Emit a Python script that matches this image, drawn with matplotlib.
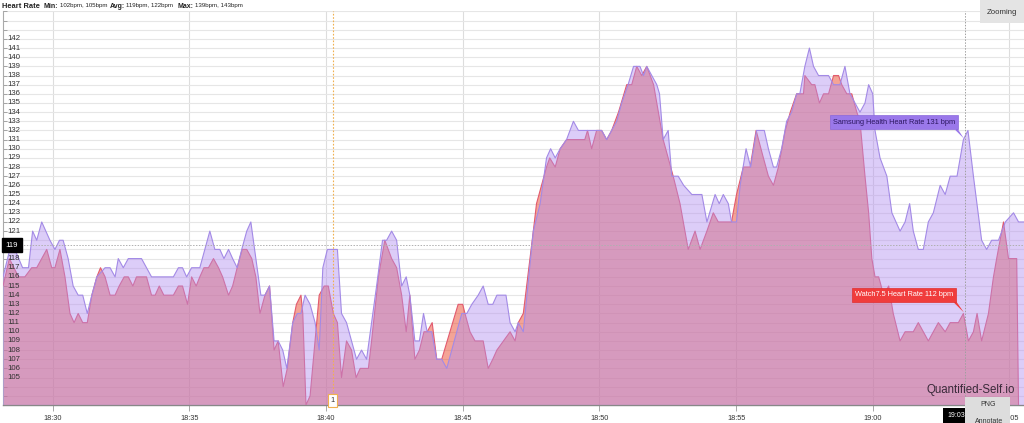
import matplotlib.pyplot as plt
import pandas as pd

plt.rcParams['font.family'] = ['Liberation Sans', 'DejaVu Sans']

DAY = '2023-05-01 '

# Samsung Health heart rate (bpm)
samsung_time = ['18:28:11', '18:28:26', '18:28:37', '18:28:54', '18:29:07', '18:29:16', '18:29:25', '18:29:36',
                '18:29:54', '18:30:05', '18:30:15', '18:30:23', '18:30:34', '18:30:45', '18:30:56', '18:31:06',
                '18:31:16', '18:31:26', '18:31:37', '18:31:55', '18:32:06', '18:32:17', '18:32:24', '18:32:35',
                '18:32:46', '18:33:15', '18:33:26', '18:33:37', '18:34:25', '18:34:36', '18:34:45', '18:34:54',
                '18:35:05', '18:35:23', '18:35:34', '18:35:45', '18:35:56', '18:36:07', '18:36:16', '18:36:26',
                '18:36:35', '18:36:45', '18:36:55', '18:37:06', '18:37:15', '18:37:26', '18:37:37', '18:37:46',
                '18:37:56', '18:38:06', '18:38:15', '18:38:25', '18:38:34', '18:38:47', '18:38:57', '18:39:05',
                '18:39:14', '18:39:25', '18:39:36', '18:39:45', '18:39:53', '18:40:03', '18:40:25', '18:40:34',
                '18:40:45', '18:40:56', '18:41:07', '18:41:18', '18:41:29', '18:41:40', '18:41:51', '18:42:04',
                '18:42:13', '18:42:24', '18:42:35', '18:42:46', '18:42:56', '18:43:04', '18:43:15', '18:43:25',
                '18:43:34', '18:43:42', '18:43:52', '18:44:03', '18:44:14', '18:44:25', '18:44:58', '18:45:09',
                '18:45:20', '18:45:34', '18:45:45', '18:45:56', '18:46:06', '18:46:15', '18:46:35', '18:46:44',
                '18:46:55', '18:47:02', '18:47:13', '18:47:35', '18:47:50', '18:48:04', '18:48:13', '18:48:23',
                '18:48:34', '18:48:48', '18:49:03', '18:49:14', '18:49:54', '18:50:05', '18:50:16', '18:50:27',
                '18:50:38', '18:50:49', '18:51:03', '18:51:15', '18:51:29', '18:51:37', '18:51:44', '18:51:55',
                '18:52:06', '18:52:12', '18:52:20', '18:52:31', '18:52:39', '18:52:53', '18:53:05', '18:53:23',
                '18:53:45', '18:53:56', '18:54:14', '18:54:23', '18:54:32', '18:54:43', '18:54:50', '18:55:01',
                '18:55:09', '18:55:22', '18:55:32', '18:55:45', '18:56:02', '18:56:11', '18:56:22', '18:56:29',
                '18:56:40', '18:56:51', '18:57:02', '18:57:13', '18:57:20', '18:57:31', '18:57:41', '18:57:50',
                '18:58:01', '18:58:23', '18:58:34', '18:58:48', '18:58:59', '18:59:10', '18:59:21', '18:59:32',
                '18:59:43', '18:59:51', '19:00:00', '19:00:05', '19:00:16', '19:00:31', '19:00:42', '19:01:00',
                '19:01:11', '19:01:21', '19:01:29', '19:01:40', '19:01:51', '19:02:02', '19:02:13', '19:02:28',
                '19:02:39', '19:02:50', '19:03:05', '19:03:19', '19:03:29', '19:03:41', '19:03:59', '19:04:10',
                '19:04:21', '19:04:36', '19:04:51', '19:05:09', '19:05:20', '19:05:32']
samsung_bpm = [116, 119, 119, 117, 117, 121, 120, 122,
               120, 119, 120, 120, 118, 115, 114, 114,
               112, 114, 116, 117, 117, 116, 118, 117,
               118, 118, 117, 116, 116, 117, 117, 116,
               117, 117, 119, 121, 119, 119, 118, 119,
               118, 117, 119, 121, 122, 118, 114, 114,
               115, 109, 109, 108, 106, 111, 112, 112,
               114, 113, 111, 108, 117, 119, 119, 112,
               111, 109, 107, 108, 107, 111, 115, 120,
               120, 121, 120, 115, 116, 114, 109, 109,
               112, 110, 110, 107, 107, 106, 112, 112,
               113, 114, 115, 113, 113, 114, 114, 111,
               110, 111, 110, 121, 124, 129, 130, 129,
               130, 131, 133, 132, 132, 132, 131, 132,
               133, 135, 137, 139, 139, 138, 139, 138,
               137, 136, 131, 132, 127, 127, 126, 125,
               125, 122, 125, 124, 125, 124, 122, 122,
               126, 130, 128, 132, 132, 130, 128, 128,
               130, 133, 134, 136, 136, 139, 141, 139,
               138, 138, 137, 137, 139, 136, 135, 134,
               135, 137, 136, 132, 129, 127, 123, 121,
               122, 124, 121, 119, 119, 122, 123, 126,
               125, 127, 127, 131, 132, 127, 120, 119,
               120, 120, 122, 123, 122, 122]

# Watch7.5 heart rate (bpm)
watch_time = ['18:28:11', '18:28:25', '18:28:35', '18:28:45', '18:28:59', '18:29:14', '18:29:25', '18:29:36',
              '18:29:47', '18:29:58', '18:30:05', '18:30:16', '18:30:27', '18:30:38', '18:30:47', '18:30:56',
              '18:31:06', '18:31:16', '18:31:26', '18:31:37', '18:31:45', '18:31:55', '18:32:06', '18:32:17',
              '18:32:26', '18:32:37', '18:32:46', '18:32:56', '18:33:04', '18:33:26', '18:33:37', '18:33:45',
              '18:33:54', '18:34:04', '18:34:25', '18:34:36', '18:34:45', '18:34:56', '18:35:05', '18:35:15',
              '18:35:23', '18:35:32', '18:35:42', '18:35:53', '18:36:04', '18:36:13', '18:36:26', '18:36:35',
              '18:36:45', '18:36:56', '18:37:06', '18:37:17', '18:37:26', '18:37:35', '18:37:46', '18:37:56',
              '18:38:06', '18:38:15', '18:38:26', '18:38:35', '18:38:47', '18:38:55', '18:39:05', '18:39:09',
              '18:39:16', '18:39:25', '18:39:45', '18:39:56', '18:40:05', '18:40:16', '18:40:25', '18:40:34',
              '18:40:45', '18:40:56', '18:41:06', '18:41:15', '18:41:33', '18:41:40', '18:41:55', '18:42:09',
              '18:42:24', '18:42:35', '18:42:46', '18:42:56', '18:43:04', '18:43:15', '18:43:25', '18:43:35',
              '18:43:42', '18:43:53', '18:44:03', '18:44:14', '18:44:50', '18:45:00', '18:45:05', '18:45:16',
              '18:45:27', '18:45:45', '18:45:56', '18:46:06', '18:46:15', '18:46:44', '18:46:55', '18:47:02',
              '18:47:13', '18:47:35', '18:47:42', '18:47:53', '18:48:04', '18:48:11', '18:48:23', '18:48:34',
              '18:48:48', '18:49:28', '18:49:34', '18:49:43', '18:49:54', '18:50:05', '18:50:16', '18:50:27',
              '18:50:42', '18:51:00', '18:51:11', '18:51:22', '18:51:33', '18:51:44', '18:51:59', '18:52:20',
              '18:52:42', '18:52:57', '18:53:15', '18:53:30', '18:53:41', '18:53:56', '18:54:10', '18:54:21',
              '18:54:50', '18:55:01', '18:55:16', '18:55:31', '18:55:44', '18:56:00', '18:56:11', '18:56:22',
              '18:56:33', '18:56:48', '18:56:59', '18:57:13', '18:57:28', '18:57:31', '18:57:46', '18:57:53',
              '18:58:03', '18:58:12', '18:58:23', '18:58:34', '18:58:45', '18:58:52', '18:59:03', '18:59:14',
              '18:59:25', '18:59:32', '18:59:43', '18:59:51', '18:59:58', '19:00:05', '19:00:13', '19:00:24',
              '19:00:35', '19:00:45', '19:01:00', '19:01:11', '19:01:29', '19:01:40', '19:01:51', '19:02:02',
              '19:02:13', '19:02:24', '19:02:39', '19:02:50', '19:03:08', '19:03:19', '19:03:30', '19:03:41',
              '19:03:49', '19:03:59', '19:04:14', '19:04:25', '19:04:32', '19:04:47', '19:04:58', '19:05:16',
              '19:05:20']
watch_bpm = [115, 118, 117, 116, 116, 117, 117, 118,
             119, 117, 117, 119, 116, 112, 111, 112,
             111, 111, 114, 116, 117, 116, 114, 114,
             115, 116, 116, 115, 116, 116, 114, 114,
             115, 114, 114, 115, 115, 113, 116, 115,
             116, 117, 117, 118, 117, 116, 114, 115,
             117, 119, 119, 118, 116, 112, 114, 115,
             108, 109, 104, 106, 111, 113, 114, 112,
             102, 103, 114, 115, 115, 112, 111, 105,
             109, 108, 105, 106, 106, 109, 116, 120,
             118, 117, 114, 110, 114, 107, 108, 110,
             110, 111, 107, 107, 113, 113, 112, 110,
             109, 109, 106, 107, 108, 110, 109, 111,
             112, 121, 124, 126, 128, 129, 128, 130,
             131, 131, 132, 130, 132, 132, 131, 132,
             134, 137, 137, 139, 138, 139, 137, 131,
             127, 124, 119, 121, 119, 121, 123, 122,
             122, 125, 128, 128, 132, 129, 127, 126,
             128, 132, 134, 136, 136, 138, 137, 137,
             135, 136, 136, 138, 138, 137, 136, 136,
             134, 133, 127, 123, 118, 116, 116, 114,
             115, 112, 109, 110, 110, 111, 110, 109,
             110, 111, 110, 111, 111, 112, 109, 110,
             112, 109, 112, 116, 118, 122, 118, 118,
             102]

y_ticks = list(range(102, 146))
y_labels = [str(v) if 105 <= v <= 142 else '' for v in y_ticks]
x_tick_times = ['18:30', '18:35', '18:40', '18:45', '18:50', '18:55', '19:00', '19:05']

hover_time = '19:03:22'
flag_time = '18:40:15'
hover_samsung = 131
hover_watch = 112
crosshair_bpm = 119.45


def to_dt(times):
    return pd.to_datetime([DAY + t for t in times])


st = to_dt(samsung_time)
wt = to_dt(watch_time)

fig = plt.figure(figsize=(10.24, 4.23), dpi=100)
ax = fig.add_axes([3 / 1024, 1 - 405 / 423, 1 - 3 / 1024, 394 / 423])

# watch area first, samsung drawn over it with transparency
ax.fill_between(wt, watch_bpm, 90, color=(0.92, 0.29, 0.18), alpha=0.5, lw=0, zorder=2)
ax.plot(wt, watch_bpm, color='#e25a6e', lw=0.8, zorder=3)
ax.fill_between(st, samsung_bpm, 90, color=(0.70, 0.565, 0.94), alpha=0.45, lw=0, zorder=4)
ax.plot(st, samsung_bpm, color='#a38ae6', lw=0.8, zorder=5)

ax.set_xlim(pd.Timestamp(DAY + '18:28:11'), pd.Timestamp(DAY + '19:05:32'))
ax.set_ylim(102.1, 145.05)

ax.set_yticks(y_ticks)
ax.set_yticklabels([])
ax.tick_params(axis='y', direction='in', length=3, width=0.6, color='#999999')
# y labels sit inside the plot, on top of the areas (the one under the crosshair box is hidden)
for v, s in zip(y_ticks, y_labels):
    if s and abs(v - crosshair_bpm) > 0.6:
        ax.text(4.5 / 1021, v, s, transform=ax.get_yaxis_transform(), ha='left', va='center',
                fontsize=5.6, color='#333333', zorder=12)

ax.set_xticks(to_dt([t + ':00' for t in x_tick_times]))
ax.set_xticklabels(x_tick_times)
ax.tick_params(axis='x', direction='out', length=4, width=0.6, color='#999999',
               pad=3, labelsize=5.3, labelcolor='#333333')

ax.grid(axis='y', color='#e6e6e6', lw=0.8, zorder=0)
ax.grid(axis='x', color='#dddddd', lw=0.8, zorder=0)
ax.set_axisbelow(True)
for side in ['top', 'right']:
    ax.spines[side].set_visible(False)
ax.spines['left'].set_color('#aaaaaa')
ax.spines['left'].set_linewidth(0.8)
ax.spines['bottom'].set_color('#888888')
ax.spines['bottom'].set_linewidth(1.0)

# crosshairs
ht = pd.Timestamp(DAY + hover_time)
ft = pd.Timestamp(DAY + flag_time)
ax.axhline(crosshair_bpm, color='#b0b0b0', lw=0.7, ls=(0, (1.5, 1.5)), zorder=6)
ax.axvline(ht, color='#a0a0a0', lw=0.7, ls=(0, (1.5, 1.5)), zorder=6)
ax.axvline(ft, color='#f0b050', lw=0.8, ls=(0, (1.5, 1.5)), zorder=6)

# tooltips
ax.annotate('Samsung Health Heart Rate %d bpm' % hover_samsung, xy=(ht, hover_samsung),
            xytext=(-7, 12.5), textcoords='offset points', ha='right', va='center',
            fontsize=5.3, color='#2b1660', zorder=10,
            bbox=dict(boxstyle='square,pad=0.45', fc='#9a78ea', ec='#8a68dc', lw=0.5),
            arrowprops=dict(arrowstyle='wedge,tail_width=0.35', fc='#9a78ea', ec='none',
                            relpos=(0.98, 0.15), shrinkA=0, shrinkB=1))
ax.annotate('Watch7.5 Heart Rate %d bpm' % hover_watch, xy=(ht, hover_watch),
            xytext=(-8.5, 13.5), textcoords='offset points', ha='right', va='center',
            fontsize=5.3, color='white', zorder=10,
            bbox=dict(boxstyle='square,pad=0.45', fc='#f03c3c', ec='#e03030', lw=0.5),
            arrowprops=dict(arrowstyle='wedge,tail_width=0.35', fc='#f03c3c', ec='none',
                            relpos=(0.98, 0.15), shrinkA=0, shrinkB=1))

# y crosshair label
ax.text(0.0025, crosshair_bpm, '119', transform=ax.get_yaxis_transform(), ha='left', va='center',
        fontsize=5.6, color='white', zorder=13,
        bbox=dict(boxstyle='square,pad=0.45', fc='black', ec='black'))

# flag on the time axis
ax.text(ft, 102.5, '1', ha='center', va='center', fontsize=5.3, color='#333333', zorder=11,
        clip_on=False, bbox=dict(boxstyle='square,pad=0.35', fc='white', ec='#f0b050', lw=0.8))

# title
fig.text(2 / 1024, 1 - 6 / 423, 'Heart Rate', fontsize=5.4, fontweight='bold', color='#222222', va='center')
parts = [(44, 'Min:', True), (60, '102bpm, 105bpm', False), (110, 'Avg:', True),
         (126, '119bpm, 122bpm', False), (178, 'Max:', True), (195, '139bpm, 143bpm', False)]
for px, s, bold in parts:
    fig.text(px / 1024, 1 - 6 / 423, s, fontsize=5.0 if bold else 4.4,
             fontweight='bold' if bold else 'normal', color='#222222', va='center')

# zoom button
fig.patches.append(plt.Rectangle((980 / 1024, 1 - 23 / 423), 44 / 1024, 23 / 423,
                                 transform=fig.transFigure, fc='#e4e4e4', ec='none', zorder=20))
fig.text(1002 / 1024, 1 - 12 / 423, 'Zooming', fontsize=5.6, color='#333333', ha='center', va='center', zorder=21)

# watermark
fig.text(1015 / 1024, 1 - 390 / 423, 'Quantified-Self.io', fontsize=8.3, color='#3a2a3a', ha='right',
         va='center', zorder=21)

# export menu fragments at bottom right
fig.patches.append(plt.Rectangle((943 / 1024, 0), 30 / 1024, 15 / 423,
                                 transform=fig.transFigure, fc='black', ec='none', zorder=20))
fig.text(947 / 1024, 1 - 415 / 423, '19:03', fontsize=5.0, color='white', va='center', zorder=21)
fig.patches.append(plt.Rectangle((965 / 1024, 0), 45 / 1024, 26 / 423,
                                 transform=fig.transFigure, fc='#dddddd', ec='none', zorder=22))
fig.text(980 / 1024, 1 - 404 / 423, 'PNG', fontsize=5.0, color='#333333', va='center', zorder=23)
fig.text(975 / 1024, 1 - 421 / 423, 'Annotate', fontsize=5.0, color='#333333', va='center', zorder=23)

fig.savefig('out.png', dpi=100)
